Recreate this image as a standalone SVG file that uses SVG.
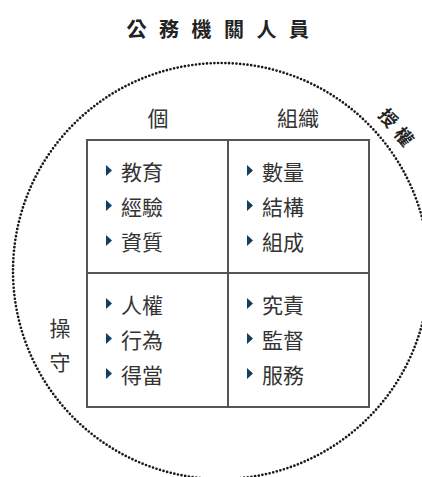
<svg xmlns="http://www.w3.org/2000/svg" width="422" height="477" viewBox="0 0 422 477">
<defs>
<style>
.t{font-family:"Noto Sans CJK TC","Noto Sans CJK SC",sans-serif;fill:#333;font-size:21px}
.b{font-family:"Noto Sans CJK TC","Noto Sans CJK SC",sans-serif;fill:#222;font-weight:bold}
.ln{stroke:#555;stroke-width:2;fill:none}
</style>
<path id="tri" d="M0,0 L6,5.5 L0,11 Z" fill="#123d5e"/>
</defs>
<rect width="422" height="477" fill="#fff"/>
<g id="connectors">
<circle cx="221" cy="271" r="208" fill="none" stroke="#1a1a1a" stroke-width="2.7" stroke-dasharray="0 3.7" stroke-linecap="round"/>
</g>
<g id="title"><text class="b" x="224" y="37" font-size="20" letter-spacing="12.5" text-anchor="middle">公務機關人員</text></g>
<g id="auth"><text class="b" font-size="18" letter-spacing="6" text-anchor="middle" transform="translate(393,134) rotate(50)">授權</text></g>
<g id="col1"><text class="t" x="158" y="126" text-anchor="middle">個</text></g>
<g id="col2"><text class="t" x="298" y="126" text-anchor="middle">組織</text></g>
<g id="row2"><text class="t" x="60" y="336" text-anchor="middle">操</text><text class="t" x="60" y="370" text-anchor="middle">守</text></g>
<g id="grid">
<rect class="ln" x="87" y="140" width="282" height="267"/>
<line class="ln" x1="228" y1="140" x2="228" y2="407"/>
<line class="ln" x1="87" y1="273" x2="369" y2="273"/>
</g>
<g id="cell-tl">
<use href="#tri" x="106" y="165"/><text class="t" x="121" y="180">教育</text>
<use href="#tri" x="106" y="200"/><text class="t" x="121" y="215">經驗</text>
<use href="#tri" x="106" y="235"/><text class="t" x="121" y="250">資質</text>
</g>
<g id="cell-tr">
<use href="#tri" x="247" y="165"/><text class="t" x="262" y="180">數量</text>
<use href="#tri" x="247" y="200"/><text class="t" x="262" y="215">結構</text>
<use href="#tri" x="247" y="235"/><text class="t" x="262" y="250">組成</text>
</g>
<g id="cell-bl">
<use href="#tri" x="106" y="298"/><text class="t" x="121" y="313">人權</text>
<use href="#tri" x="106" y="333"/><text class="t" x="121" y="348">行為</text>
<use href="#tri" x="106" y="368"/><text class="t" x="121" y="383">得當</text>
</g>
<g id="cell-br">
<use href="#tri" x="247" y="298"/><text class="t" x="262" y="313">究責</text>
<use href="#tri" x="247" y="333"/><text class="t" x="262" y="348">監督</text>
<use href="#tri" x="247" y="368"/><text class="t" x="262" y="383">服務</text>
</g>
</svg>
